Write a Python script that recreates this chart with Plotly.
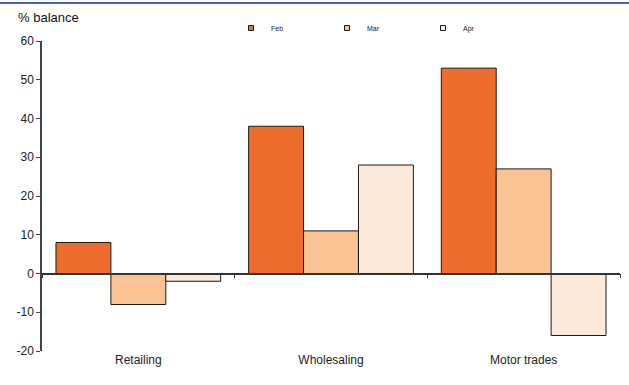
import plotly.graph_objects as go

categories = ["Retailing", "Wholesaling", "Motor trades"]
series_names = ["Feb", "Mar", "Apr"]
feb = [8, 38, 53]
mar = [-8, 11, 27]
apr = [-2, 28, -16]
y_ticks = [-20, -10, 0, 10, 20, 30, 40, 50, 60]

colors = ["#EC6D2E", "#F9C394", "#FDE9DA"]

fig = go.Figure()
for name, vals, col in zip(series_names, [feb, mar, apr], colors):
    fig.add_trace(go.Bar(
        x=list(range(len(categories))), y=vals, name=name, showlegend=False,
        marker=dict(color=col, line=dict(color="#1a1a1a", width=1)),
    ))

# small square legend keys
for name, col in zip(series_names, colors):
    fig.add_trace(go.Scatter(
        x=[None], y=[None], name=name, mode="markers",
        marker=dict(symbol="square", size=5, color=col,
                    line=dict(color="#1a1a1a", width=1)),
    ))

# invisible trace so the zero-line axis is drawn
fig.add_trace(go.Scatter(x=[0], y=[0], xaxis="x2", mode="markers",
                         marker=dict(opacity=0), showlegend=False, hoverinfo="skip"))

L, R, T, B = 42, 9, 41, 34
W, H = 629, 385
pw = W - L - R
ph = H - T - B

fig.update_layout(
    width=W, height=H,
    margin=dict(l=L, r=R, t=T, b=B),
    paper_bgcolor="white", plot_bgcolor="white",
    font=dict(family="Liberation Sans, Arial, sans-serif", size=12, color="#222222"),
    barmode="group", bargap=0.145, bargroupgap=0,
    xaxis=dict(
        range=[-0.5, 2.5], tickvals=[0, 1, 2], ticktext=categories,
        showline=False, showgrid=False, zeroline=False, ticks="",
        tickfont=dict(size=12), fixedrange=True,
    ),
    xaxis2=dict(
        range=[-0.5, 2.5], overlaying="x", anchor="free", position=20 / 80,
        tickvals=[-0.5, 0.5, 1.5, 2.5], showticklabels=False,
        ticks="outside", ticklen=4, tickcolor="#333333", tickwidth=1,
        showline=True, linecolor="#333333", linewidth=1.5,
        showgrid=False, zeroline=False,
    ),
    yaxis=dict(
        range=[-20, 60], tickvals=y_ticks, ticktext=[str(v) for v in y_ticks],
        showline=True, linecolor="#444444", linewidth=1.5,
        ticks="outside", ticklen=4, tickcolor="#444444",
        showgrid=False, zeroline=False, tickfont=dict(size=12),
    ),
    legend=dict(
        orientation="h", x=(231 - L) / pw, y=1 + (T - 28) / ph,
        xanchor="left", yanchor="middle",
        font=dict(size=7, color="#222222"),
        entrywidth=51, entrywidthmode="pixels",
        itemsizing="trace", itemwidth=30, bgcolor="rgba(0,0,0,0)",
        tracegroupgap=0,
    ),
    showlegend=True,
)

fig.add_annotation(
    text="% balance", xref="paper", yref="paper",
    x=-(L - 16) / pw, y=1 + (T - 18) / ph,
    xanchor="left", yanchor="middle", showarrow=False,
    font=dict(size=13, color="#111111"),
)

fig.add_shape(
    type="line", xref="paper", yref="paper",
    x0=-L / pw, x1=1 + R / pw, y0=1 + (T - 3) / ph, y1=1 + (T - 3) / ph,
    line=dict(color="#4A68A8", width=2),
)

fig.write_html("out.html")
